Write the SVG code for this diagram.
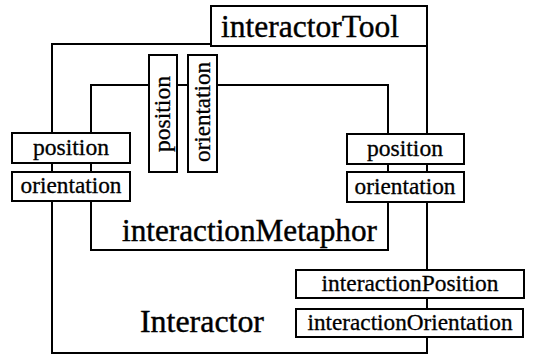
<svg xmlns="http://www.w3.org/2000/svg" width="534" height="356" viewBox="0 0 534 356">
<style>
.ln{fill:none;stroke:#000;stroke-width:2}
.bx{fill:#fff;stroke:#000;stroke-width:2}
.big{font-family:"Liberation Serif","Times New Roman",serif;font-size:31px;fill:#000;stroke:#000;stroke-width:0.4}
.sm{font-family:"Liberation Serif","Times New Roman",serif;font-size:23px;fill:#000;stroke:#000;stroke-width:0.3;text-anchor:middle}
</style>
<rect width="534" height="356" fill="#fff"/>
<g id="connectors">
<rect class="ln" x="52" y="44" width="375" height="309"/>
<rect class="ln" x="91" y="85" width="297" height="165"/>
</g>
<g id="interactorTool">
<rect class="bx" x="211" y="6" width="216" height="40"/>
<text class="big" x="221" y="37" textLength="178" lengthAdjust="spacingAndGlyphs">interactorTool</text>
</g>
<g id="interactionMetaphor">
<text class="big" x="122" y="241" textLength="255" lengthAdjust="spacingAndGlyphs">interactionMetaphor</text>
</g>
<g id="Interactor">
<text class="big" x="140" y="332" textLength="124" lengthAdjust="spacingAndGlyphs">Interactor</text>
</g>
<g id="vposition">
<rect class="bx" x="149" y="55" width="28" height="117"/>
<text class="sm" transform="translate(170,114) rotate(-90)" textLength="76" lengthAdjust="spacingAndGlyphs">position</text>
</g>
<g id="vorientation">
<rect class="bx" x="188" y="55" width="29" height="117"/>
<text class="sm" transform="translate(210,112) rotate(-90)" textLength="100" lengthAdjust="spacingAndGlyphs">orientation</text>
</g>
<g id="lposition">
<rect class="bx" x="12" y="133" width="118" height="30"/>
<text class="sm" x="71" y="155" textLength="76" lengthAdjust="spacingAndGlyphs">position</text>
</g>
<g id="lorientation">
<rect class="bx" x="12" y="172" width="118" height="29"/>
<text class="sm" x="71" y="193" textLength="101" lengthAdjust="spacingAndGlyphs">orientation</text>
</g>
<g id="rposition">
<rect class="bx" x="347" y="134" width="117" height="30"/>
<text class="sm" x="405" y="156" textLength="76" lengthAdjust="spacingAndGlyphs">position</text>
</g>
<g id="rorientation">
<rect class="bx" x="347" y="172" width="117" height="30"/>
<text class="sm" x="405" y="194" textLength="101" lengthAdjust="spacingAndGlyphs">orientation</text>
</g>
<g id="interactionPosition">
<rect class="bx" x="296" y="270" width="228" height="28"/>
<text class="sm" x="410" y="291" textLength="177" lengthAdjust="spacingAndGlyphs">interactionPosition</text>
</g>
<g id="interactionOrientation">
<rect class="bx" x="296" y="309" width="227" height="28"/>
<text class="sm" x="410" y="330" textLength="205" lengthAdjust="spacingAndGlyphs">interactionOrientation</text>
</g>
</svg>
